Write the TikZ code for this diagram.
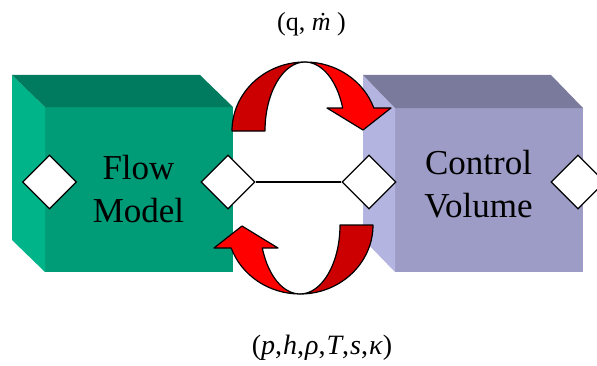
\documentclass[tikz,border=0pt]{standalone}
\usepackage{fontspec}
\setmainfont{Liberation Serif}
\usetikzlibrary{shapes.geometric}
\definecolor{gfront}{RGB}{0,155,119}
\definecolor{gside}{RGB}{0,180,138}
\definecolor{gtop}{RGB}{0,123,95}
\definecolor{vfront}{RGB}{156,156,198}
\definecolor{vside}{RGB}{180,180,224}
\definecolor{vtop}{RGB}{122,122,156}
\definecolor{rdark}{RGB}{204,0,0}
\definecolor{rbright}{RGB}{255,0,0}
\tikzset{
  port/.style={diamond, draw=black, fill=white, line width=1.3pt, minimum width=54pt, minimum height=54pt, inner sep=0pt},
  boxtext/.style={align=center, font=\fontsize{35}{43}\selectfont},
  lbl/.style={anchor=base, font=\fontsize{26}{30}\selectfont},
  arrowline/.style={draw=black, line width=1.2pt, line join=round},
}
\begin{document}
\begin{tikzpicture}[x=1pt,y=1pt]
\useasboundingbox (0,0) rectangle (597,365);
% Flow model box
\fill[gfront] (45,93) rectangle (233,258);
\fill[gside] (12,290) -- (45,258) -- (45,93) -- (12,125) -- cycle;
\fill[gtop] (12,290) -- (200,290) -- (233,258) -- (45,258) -- cycle;
% Control volume box
\fill[vfront] (395,93) rectangle (583,257);
\fill[vside] (363,290) -- (395,257) -- (395,93) -- (363,126) -- cycle;
\fill[vtop] (363,290) -- (551,290) -- (583,257) -- (395,257) -- cycle;
% ports
\node[port] (p1) at (49.5,183) {};
\node[port] (p2) at (228,183) {};
\node[port] (p3) at (369,183) {};
\node[port] (p4) at (578,183) {};
\draw[line width=1.3pt] (p2.east) -- (p3.west);
% texts
\node[boxtext] (flow) at (138.5,176) {Flow\\Model};
\node[boxtext] (cv) at (478.5,180.5) {Control\\Volume};
\node[lbl] (top) at (311.5,334) {(q, \textit{\.{m}} )};
\node[lbl, font=\fontsize{28}{32}\selectfont] (bot) at (322,11) {(\textit{p},\kern1pt\textit{h},\kern1pt\textit{ρ},\kern1pt\textit{T},\kern1pt\textit{s},\kern1pt\textit{κ})};
% curved arrows
\foreach \r in {0,180}{
\begin{scope}[rotate around={\r:(302.5,187)}]
\path[fill=rdark, arrowline] (232,234) arc[start angle=180,end angle=90,x radius=73,y radius=69]
   arc[start angle=90,end angle=180,x radius=40,y radius=69] -- cycle;
\path[fill=rbright, arrowline] (305,303) arc[start angle=90,end angle=19.5,x radius=73,y radius=69]
   -- (391,257) -- (363,235) -- (327,257) -- (342.7,257)
   arc[start angle=19.5,end angle=90,x radius=40,y radius=69] -- cycle;
\end{scope}
}
\end{tikzpicture}
\end{document}
